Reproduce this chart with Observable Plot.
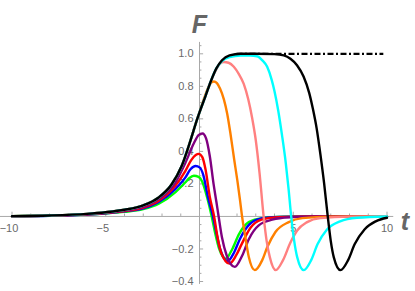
<!DOCTYPE html>
<html><head><meta charset="utf-8">
<script src="https://cdn.jsdelivr.net/npm/d3@7"></script>
<script src="https://cdn.jsdelivr.net/npm/@observablehq/plot@0.6"></script>
<style>
body{margin:0;background:#fff}
#chart svg{display:block;background:#fff}
</style>
</head><body><div id="chart"></div>
<script>
// ---- data ----
const tGreen = [-10,-8,-6,-5,-4,-3,-2.17,-1.28,-0.75,-0.55,-0.3,-0.05,0.14,0.4,0.65,0.85,1.05,1.4,1.75,2.1,2.63,3.34,4.5,6,10];
const fGreen = [0.001,0.004,0.011,0.018,0.028,0.045,0.078,0.15,0.21,0.235,0.25,0.243,0.215,0.12,0,-0.11,-0.2,-0.26,-0.2,-0.11,-0.035,-0.01,-0.002,0,0];
const tBlue = [-10,-8,-6,-5,-4,-3,-2.2,-1.28,-0.75,-0.48,-0.21,0.02,0.2,0.45,0.72,0.9,1.1,1.5,1.85,2.15,2.65,3.3,4.2,6,10];
const fBlue = [0.001,0.004,0.012,0.02,0.031,0.05,0.088,0.17,0.24,0.29,0.31,0.3,0.255,0.12,0,-0.1,-0.2,-0.275,-0.22,-0.14,-0.05,-0.012,-0.003,0,0];
const tRed = [-10,-8,-6,-5,-4,-3,-2.2,-1.28,-0.75,-0.45,-0.2,-0.04,0.15,0.32,0.55,0.78,0.95,1.15,1.6,1.95,2.25,2.72,3.3,4.2,6,10];
const fRed = [0.002,0.005,0.013,0.021,0.033,0.055,0.095,0.19,0.28,0.345,0.378,0.385,0.365,0.29,0.12,0,-0.12,-0.22,-0.29,-0.24,-0.17,-0.07,-0.02,-0.004,0,0];
const tPurple = [-10,-8,-6,-5,-4,-3,-2.2,-1.28,-0.75,-0.3,-0.05,0.16,0.35,0.55,0.75,0.9,1.02,1.2,1.45,1.88,2.28,2.63,3.16,3.88,4.77,6,10];
const fPurple = [0.002,0.005,0.014,0.023,0.036,0.06,0.105,0.21,0.33,0.45,0.5,0.51,0.48,0.37,0.2,0.09,0,-0.13,-0.24,-0.31,-0.24,-0.14,-0.055,-0.02,-0.005,-0.001,0];
const tOrange = [-10,-8,-6,-5,-4,-3,-2.2,-1.5,-0.95,-0.5,-0.12,0,0.2,0.4,0.6,0.76,0.93,1.1,1.3,1.48,1.65,1.85,2.02,2.15,2.27,2.45,2.63,2.95,3.34,3.61,4.05,4.76,5.48,7,10];
const fOrange = [0.002,0.006,0.016,0.026,0.041,0.068,0.115,0.195,0.31,0.46,0.6,0.64,0.71,0.775,0.82,0.83,0.82,0.785,0.72,0.63,0.51,0.35,0.22,0.11,0,-0.13,-0.25,-0.33,-0.27,-0.19,-0.096,-0.035,-0.01,-0.001,0];
const tPink = [-10,-8,-6,-5,-4,-3,-2.2,-1.5,-0.95,-0.5,-0.12,0,0.32,0.6,0.9,1.1,1.3,1.55,1.83,2.1,2.36,2.6,2.8,3.0,3.2,3.42,3.58,3.75,4.07,4.45,4.85,5.21,5.74,6.45,8,10];
const fPink = [0.002,0.006,0.016,0.026,0.041,0.068,0.115,0.195,0.31,0.46,0.6,0.64,0.74,0.83,0.905,0.94,0.95,0.945,0.92,0.875,0.815,0.72,0.61,0.47,0.27,0,-0.15,-0.25,-0.33,-0.27,-0.16,-0.086,-0.035,-0.01,-0.001,0];
const tCyan = [-10,-8,-6,-5,-4,-3,-2.2,-1.5,-0.95,-0.5,-0.12,0,0.32,0.6,0.9,1.2,1.6,2.2,2.7,3.07,3.35,3.61,3.85,4.0,4.2,4.4,4.6,4.75,4.89,5.05,5.21,5.56,5.95,6.3,6.8,7.5,8.4,10];
const fCyan = [0.002,0.006,0.016,0.026,0.041,0.068,0.115,0.195,0.31,0.46,0.6,0.64,0.74,0.83,0.91,0.955,0.98,0.99,0.99,0.985,0.96,0.92,0.84,0.77,0.65,0.5,0.33,0.17,0,-0.15,-0.25,-0.33,-0.27,-0.17,-0.08,-0.03,-0.008,0];
const tBlack = [-10,-8,-6,-5,-4,-3,-2.2,-1.5,-0.95,-0.5,-0.12,0,0.32,0.6,0.9,1.2,1.6,2.2,3,4,4.5,4.85,5.2,5.55,5.85,6.05,6.25,6.45,6.65,6.84,7.0,7.16,7.52,7.92,8.28,8.8,9.4,10];
const fBlack = [0.002,0.006,0.016,0.026,0.041,0.068,0.115,0.195,0.31,0.46,0.6,0.64,0.74,0.83,0.91,0.96,0.99,1.0,1.0,0.998,0.99,0.97,0.93,0.86,0.76,0.66,0.54,0.38,0.2,0,-0.15,-0.25,-0.33,-0.27,-0.17,-0.08,-0.03,-0.008];
const asymptoteLevel = [1.0];
const asymptoteSpan = [2.0, 9.83];

const seriesNames = ["green","blue","red","purple","orange","pink","cyan","black"];
const seriesColors = ["#00ff00","#0000ff","#ff0000","#800080","#ff8000","#ff8080","#00ffff","#000000"];
const seriesT = [tGreen,tBlue,tRed,tPurple,tOrange,tPink,tCyan,tBlack];
const seriesF = [fGreen,fBlue,fRed,fPurple,fOrange,fPink,fCyan,fBlack];

const xTickValues = [-10,-5,5,10];
const xTickLabels = ["\u221210","\u22125","5","10"];
const yTickValues = [-0.4,-0.2,0.2,0.4,0.6,0.8,1.0];
const yTickLabels = ["\u22120.4","\u22120.2","0.2","0.4","0.6","0.8","1.0"];
const xMinor = [-9,-8,-7,-6,-4,-3,-2,-1,1,2,3,4,6,7,8,9];
const yMinor = [-0.35,-0.3,-0.25,-0.15,-0.1,-0.05,0.05,0.1,0.15,0.25,0.3,0.35,0.45,0.5,0.55,0.65,0.7,0.75,0.85,0.9,0.95,1.05];

// ---- build ----
const tick = "#a8a8a8";
const labelFill = "#6a6a6a";
const font = "'Liberation Sans', Arial, sans-serif";

const lineMarks = seriesNames.map((name, i) => {
  const rows = seriesT[i].map((t, j) => ({t, F: seriesF[i][j], name}));
  return Plot.line(rows, {x: "t", y: "F", stroke: seriesColors[i], strokeWidth: 2.4, curve: "monotone-x"});
});

const negX = xTickValues.map((v,i)=>({v, s: xTickLabels[i]})).filter(d => d.v < 0);
const posX = xTickValues.map((v,i)=>({v, s: xTickLabels[i]})).filter(d => d.v > 0);

const chart = Plot.plot({
  width: 415,
  height: 291,
  x: {domain: [-10, 10], range: [11.5, 386.5]},
  y: {domain: [-0.4, 1.0], range: [281, 53.3]},
  axis: null,
  style: {fontFamily: font, background: "#fff", overflow: "visible"},
  marks: [
    Plot.ruleY([0], {x1: -10.62, x2: 10.36, stroke: tick, strokeWidth: 1}),
    Plot.ruleX([0], {y1: -0.418, y2: 1.07, stroke: tick, strokeWidth: 1}),
    Plot.ruleX(xTickValues, {x: d => d, y1: 0, y2: 0.026, stroke: tick}),
    Plot.ruleX(xMinor, {x: d => d, y1: 0, y2: 0.015, stroke: tick}),
    Plot.ruleY(yTickValues, {y: d => d, x1: 0, x2: 0.22, stroke: tick}),
    Plot.ruleY(yMinor, {y: d => d, x1: 0, x2: 0.13, stroke: tick}),
    Plot.text(negX, {x: "v", y: 0, text: "s", dx: -3, dy: 12, fontSize: 11, fill: labelFill}),
    Plot.text(posX, {x: "v", y: 0, text: "s", dy: 12, fontSize: 11, fill: labelFill}),
    Plot.text(yTickValues, {x: 0, y: d => d, text: (d, i) => yTickLabels[i], textAnchor: "end", dx: -6, fontSize: 11, fill: labelFill}),
    ...lineMarks,
    Plot.ruleY(asymptoteLevel, {y: d => d, x1: asymptoteSpan[0], x2: asymptoteSpan[1], stroke: "#000", strokeWidth: 2.2, strokeDasharray: "6,2.5,2,2.5"}),
    Plot.text(["F"], {x: 0, y: 1.0, text: d => d, dy: -29, fontSize: 25, fontWeight: "bold", fontStyle: "italic", fill: "#666"}),
    Plot.text(["t"], {x: 10.36, y: 0, text: d => d, textAnchor: "start", dx: 7, dy: 6, fontSize: 25, fontWeight: "bold", fontStyle: "italic", fill: "#666"})
  ]
});
document.getElementById("chart").appendChild(chart);
</script>
</body></html>
